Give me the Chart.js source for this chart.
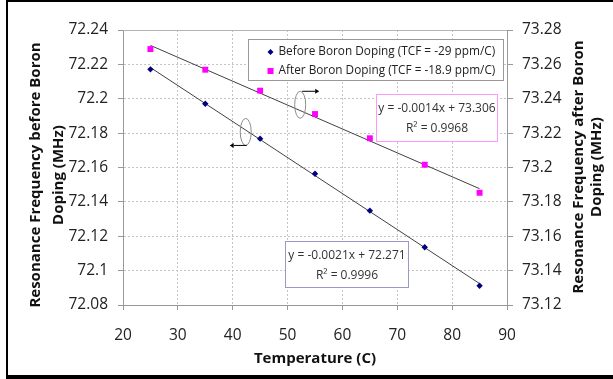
<!DOCTYPE html>
<html>
<head>
<meta charset="utf-8">
<script src="https://cdn.jsdelivr.net/npm/chart.js@4.4.1/dist/chart.umd.min.js"></script>
<style>
  html, body { margin: 0; padding: 0; background: #fff; }
  #wrap { position: relative; width: 613px; height: 379px; overflow: hidden; }
  #frame { position: absolute; left: 6px; top: 0; width: 640px; height: 373px;
           border-top: 2px solid #000; border-left: 2px solid #000; border-bottom: 4px solid #000; }
  canvas { position: absolute; left: 0; top: 0; }
</style>
</head>
<body>
<div id="wrap">
  <canvas id="chartContainer" width="613" height="379"></canvas>
  <div id="frame"></div>
</div>
<script>
// temperature (C)
const temps = [25, 35, 45, 55, 65, 75, 85];
// resonance frequency (MHz)
const freqBefore = [72.2171, 72.1971, 72.1768, 72.1564, 72.1349, 72.1136, 72.0912];
const freqAfter  = [73.2689, 73.2569, 73.2447, 73.2311, 73.2170, 73.2016, 73.1853];

const xTicks     = [20, 30, 40, 50, 60, 70, 80, 90];
const leftTicks  = [72.08, 72.1, 72.12, 72.14, 72.16, 72.18, 72.2, 72.22, 72.24];
const rightTicks = [73.12, 73.14, 73.16, 73.18, 73.2, 73.22, 73.24, 73.26, 73.28];

const seriesNames = ["Before Boron Doping (TCF = -29 ppm/C)", "After Boron Doping (TCF = -18.9 ppm/C)"];
const eqBefore = ["y = -0.0021x + 72.271", "R\u00B2 = 0.9996"];
const eqAfter  = ["y = -0.0014x + 73.306", "R\u00B2 = 0.9968"];

const leftTitle  = ["Resonance Frequency before Boron", "Doping (MHz)"];
const rightTitle = ["Resonance Frequency after Boron", "Doping (MHz)"];
const xTitle = "Temperature (C)";

const FONT = "'Open Sans', 'Noto Sans', sans-serif";

// least squares trendline over the measured points
function linearFit(xs, ys) {
  const n = xs.length;
  const mx = xs.reduce((a, b) => a + b, 0) / n;
  const my = ys.reduce((a, b) => a + b, 0) / n;
  let sxy = 0, sxx = 0;
  xs.forEach((x, i) => { sxy += (x - mx) * (ys[i] - my); sxx += (x - mx) * (x - mx); });
  const slope = sxy / sxx;
  return x => my + slope * (x - mx);
}

function trend(xs, ys) {
  const f = linearFit(xs, ys);
  const x0 = xs[0], x1 = xs[xs.length - 1];
  return [{ x: x0, y: f(x0) }, { x: x1, y: f(x1) }];
}

const toPoints = (xs, ys) => xs.map((x, i) => ({ x: x, y: ys[i] }));

// annotation placement in data units (x, left axis value)
const legendBox  = { x0: 42.8, x1: 89.2, y0: 72.2346, y1: 72.2109 };
const boxAfter   = { x0: 66.2, x1: 88.25, y0: 72.2026, y1: 72.1756, color: "#ff99ff" };
const boxBefore  = { x0: 49.6, x1: 71.95, y0: 72.1174, y1: 72.0906, color: "#9999cc" };
const ellipseBefore = { x: 42.37, y: 72.1807, dir: -1 };
const ellipseAfter  = { x: 52.3,  y: 72.1965, dir: 1 };

function diamond(ctx, x, y, r) {
  ctx.beginPath();
  ctx.moveTo(x, y - r); ctx.lineTo(x + r, y); ctx.lineTo(x, y + r); ctx.lineTo(x - r, y);
  ctx.closePath(); ctx.fill();
}

const overlay = {
  id: "overlay",
  beforeDatasetsDraw(chart) {
    const { ctx, chartArea: a } = chart;
    ctx.save();
    ctx.strokeStyle = "#b4b4b4";
    ctx.lineWidth = 1;
    ctx.beginPath();
    ctx.moveTo(a.left, a.top + 0.5); ctx.lineTo(a.right, a.top + 0.5);
    ctx.stroke();
    ctx.restore();
  },
  afterDatasetsDraw(chart) {
    const { ctx } = chart;
    const sx = chart.scales.x, sy = chart.scales.y;
    const X = v => sx.getPixelForValue(v), Y = v => sy.getPixelForValue(v);
    ctx.save();

    // ellipses with arrows
    [ellipseBefore, ellipseAfter].forEach(e => {
      const cx = X(e.x), cy = Y(e.y);
      ctx.strokeStyle = "#8c8c8c";
      ctx.lineWidth = 1;
      ctx.beginPath();
      ctx.ellipse(cx, cy, 5.5, 13.5, 0, 0, Math.PI * 2);
      ctx.stroke();
      const ay = e.dir < 0 ? cy + 13.5 : cy - 13.5;
      const ax0 = e.dir < 0 ? cx + 1 : cx + 2;
      const ax1 = ax0 + e.dir * 13;
      ctx.strokeStyle = "#000";
      ctx.beginPath(); ctx.moveTo(ax0, ay); ctx.lineTo(ax1, ay); ctx.stroke();
      ctx.fillStyle = "#000";
      ctx.beginPath();
      ctx.moveTo(ax1 + e.dir * 4, ay); ctx.lineTo(ax1, ay - 2.5); ctx.lineTo(ax1, ay + 2.5);
      ctx.closePath(); ctx.fill();
    });

    // trendline equation boxes
    [[boxAfter, eqAfter], [boxBefore, eqBefore]].forEach(([b, lines]) => {
      const l = Math.round(X(b.x0)) + 0.5, r = Math.round(X(b.x1)) + 0.5;
      const t = Math.round(Y(b.y0)) + 0.5, btm = Math.round(Y(b.y1)) + 0.5;
      ctx.fillStyle = "#fff";
      ctx.fillRect(l, t, r - l, btm - t);
      ctx.strokeStyle = b.color;
      ctx.lineWidth = 1;
      ctx.strokeRect(l, t, r - l, btm - t);
      ctx.fillStyle = "#333";
      ctx.font = "12px " + FONT;
      ctx.textAlign = "center";
      ctx.textBaseline = "alphabetic";
      const cx = (l + r) / 2;
      ctx.fillText(lines[0], cx, t + 17);
      ctx.fillText(lines[1], cx, t + 37);
    });

    // legend
    const l = Math.round(X(legendBox.x0)) + 0.5, r = Math.round(X(legendBox.x1)) + 0.5;
    const t = Math.round(Y(legendBox.y0)) + 0.5, btm = Math.round(Y(legendBox.y1)) + 0.5;
    ctx.fillStyle = "#fff";
    ctx.fillRect(l, t, r - l, btm - t);
    ctx.strokeStyle = "#999";
    ctx.strokeRect(l, t, r - l, btm - t);
    ctx.fillStyle = "#000080";
    diamond(ctx, l + 22, t + 12.5, 3);
    ctx.fillStyle = "#ff00ff";
    ctx.fillRect(l + 19, t + 28.5, 6, 6);
    ctx.fillStyle = "#222";
    ctx.font = "11.8px " + FONT;
    ctx.textAlign = "left";
    ctx.textBaseline = "middle";
    ctx.fillText(seriesNames[0], l + 30, t + 12.5);
    ctx.fillText(seriesNames[1], l + 30, t + 31.5);

    ctx.restore();
  },
  afterDraw(chart) {
    const { ctx, chartArea: a } = chart;
    ctx.save();
    ctx.fillStyle = "#111";
    ctx.font = "bold 15px " + FONT;
    ctx.textAlign = "center";
    ctx.textBaseline = "alphabetic";
    ctx.fillText(xTitle, (a.left + a.right) / 2, 363);

    const vTitle = (lines, xs, yc) => {
      lines.forEach((line, i) => {
        ctx.save();
        ctx.translate(xs[i], yc);
        ctx.rotate(-Math.PI / 2);
        ctx.fillText(line, 0, 0);
        ctx.restore();
      });
    };
    vTitle(leftTitle, [40, 62.5], 175);
    vTitle(rightTitle, [582.5, 601], 167);
    ctx.restore();
  }
};

const tickFont = { family: FONT, size: 15.5 };
const gridDotted = { color: "#c4c4c4", tickColor: "#999", tickLength: 5, tickBorderDash: [] };

const chart = new Chart(document.getElementById("chartContainer"), {
  type: "scatter",
  data: {
    datasets: [
      { label: seriesNames[0], data: toPoints(temps, freqBefore), yAxisID: "y",
        pointStyle: "rectRot", pointRadius: 3.2, backgroundColor: "#000080", borderColor: "#000080",
        borderWidth: 0, order: 1 },
      { label: seriesNames[1], data: toPoints(temps, freqAfter), yAxisID: "y2",
        pointStyle: "rect", pointRadius: 4.2, backgroundColor: "#ff00ff", borderColor: "#ff00ff",
        borderWidth: 0, order: 1 },
      { label: "fit before", data: trend(temps, freqBefore), yAxisID: "y", type: "line",
        showLine: true, pointRadius: 0, borderColor: "#404040", borderWidth: 1, order: 2 },
      { label: "fit after", data: trend(temps, freqAfter), yAxisID: "y2", type: "line",
        showLine: true, pointRadius: 0, borderColor: "#404040", borderWidth: 1, order: 2 }
    ]
  },
  options: {
    responsive: false,
    animation: false,
    layout: { padding: { top: 30, left: 0, right: 0, bottom: 0 } },
    plugins: { legend: { display: false }, tooltip: { enabled: false } },
    scales: {
      x: {
        type: "linear", min: 20, max: 90,
        afterBuildTicks: s => { s.ticks = xTicks.map(v => ({ value: v })); },
        afterFit: s => { s.height = 74; },
        ticks: { font: tickFont, color: "#222", padding: 16, callback: v => String(v), maxRotation: 0 },
        grid: gridDotted,
        border: { color: "#999", dash: [2, 2] }
      },
      y: {
        position: "left", min: 72.08, max: 72.24,
        afterBuildTicks: s => { s.ticks = leftTicks.map(v => ({ value: v })); },
        afterFit: s => { s.width = 123; },
        ticks: { font: tickFont, color: "#222", padding: 10, callback: v => String(v) },
        grid: gridDotted,
        border: { color: "#999", dash: [2, 2] }
      },
      y2: {
        position: "right", min: 73.12, max: 73.28,
        afterBuildTicks: s => { s.ticks = rightTicks.map(v => ({ value: v })); },
        afterFit: s => { s.width = 106; },
        ticks: { font: tickFont, color: "#222", padding: 9, callback: v => String(v) },
        grid: { drawOnChartArea: false, color: "#999", tickColor: "#999", tickLength: 6 },
        border: { color: "#999" }
      }
    }
  },
  plugins: [overlay]
});
</script>
</body>
</html>
